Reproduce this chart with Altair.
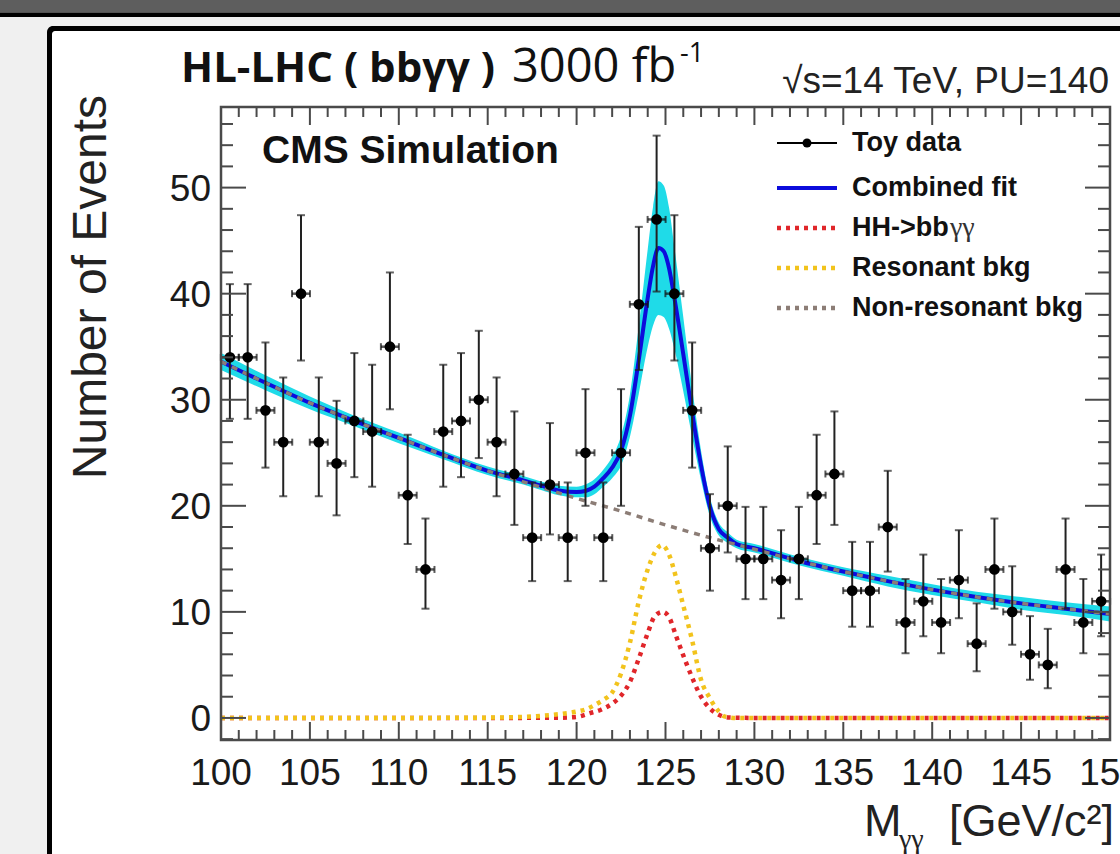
import altair as alt
import pandas as pd

# ---------------- data ----------------
mass = [100.5, 101.5, 102.5, 103.5, 104.5, 105.5, 106.5, 107.5, 108.5, 109.5,
        110.5, 111.5, 112.5, 113.5, 114.5, 115.5, 116.5, 117.5, 118.5, 119.5,
        120.5, 121.5, 122.5, 123.5, 124.5, 125.5, 126.5, 127.5, 128.5, 129.5,
        130.5, 131.5, 132.5, 133.5, 134.5, 135.5, 136.5, 137.5, 138.5, 139.5,
        140.5, 141.5, 142.5, 143.5, 144.5, 145.5, 146.5, 147.5, 148.5, 149.5]
counts = [34, 34, 29, 26, 40, 26, 24, 28, 27, 35,
          21, 14, 27, 28, 30, 26, 23, 17, 22, 17,
          25, 17, 25, 39, 47, 40, 29, 16, 20, 15,
          15, 13, 15, 21, 23, 12, 12, 18, 9, 11,
          9, 13, 7, 14, 10, 6, 5, 14, 9, 11]
err_lo = [5.8, 5.8, 5.4, 5.1, 6.3, 5.1, 4.9, 5.3, 5.2, 5.9,
          4.6, 3.7, 5.2, 5.3, 5.5, 5.1, 4.8, 4.1, 4.7, 4.1,
          5.0, 4.1, 5.0, 6.2, 6.8, 6.3, 5.4, 4.0, 4.4, 3.8,
          3.8, 3.6, 3.8, 4.6, 4.8, 3.4, 3.4, 4.2, 2.9, 3.3,
          2.9, 3.6, 2.6, 3.7, 3.1, 2.4, 2.2, 3.7, 2.9, 3.3]
err_hi = [6.9, 6.9, 6.4, 6.1, 7.4, 6.1, 5.9, 6.4, 6.3, 7.0,
          5.7, 4.8, 6.3, 6.4, 6.5, 6.1, 5.9, 5.2, 5.8, 5.2,
          6.0, 5.2, 6.0, 7.3, 7.9, 7.4, 6.4, 5.1, 5.6, 4.9,
          4.9, 4.7, 4.9, 5.7, 5.9, 4.6, 4.6, 5.3, 4.1, 4.4,
          4.1, 4.7, 3.8, 4.8, 4.3, 3.6, 3.4, 4.8, 4.1, 4.4]

# combined fit with its uncertainty band
fit_x = [100, 102.5, 105, 107.5, 110, 112.5, 115, 117, 118, 119, 120, 120.5, 121, 121.5,
         122, 122.5, 123, 123.5, 124, 124.3, 124.6, 124.9, 125.2, 125.5, 126, 126.5, 127,
         127.5, 128, 128.5, 129, 130, 132.5, 135, 137.5, 140, 142.5, 145, 147.5, 150]
fit_y = [33.6, 31.6, 29.7, 28.0, 26.4, 24.8, 23.3, 22.4, 21.9, 21.45, 21.3, 21.4, 21.8, 22.6,
         23.6, 25.2, 28.5, 33.8, 39.6, 42.6, 44.3, 44.0, 42.4, 39.6, 34.3, 28.8, 23.8,
         19.9, 17.8, 17.0, 16.4, 16.0, 14.8, 13.8, 12.9, 12.1, 11.4, 10.8, 10.3, 9.8]
band_lo = [32.8, 30.9, 29.1, 27.5, 25.9, 24.4, 22.9, 22.0, 21.5, 21.0, 20.8, 20.8, 21.1, 21.8,
           22.6, 23.8, 26.5, 30.6, 35.0, 37.0, 38.0, 37.8, 36.7, 34.8, 30.8, 26.5, 22.4,
           19.0, 17.2, 16.5, 16.0, 15.6, 14.4, 13.4, 12.4, 11.6, 10.9, 10.2, 9.7, 9.1]
band_hi = [34.4, 32.3, 30.3, 28.5, 26.9, 25.2, 23.7, 22.8, 22.3, 21.9, 21.8, 22.0, 22.5, 23.4,
           24.6, 26.6, 30.5, 37.0, 44.2, 48.2, 50.6, 50.2, 48.1, 44.4, 37.8, 31.1, 25.2,
           20.8, 18.4, 17.5, 16.8, 16.4, 15.2, 14.2, 13.4, 12.6, 11.9, 11.4, 10.9, 10.5]

# non-resonant background
nonres_x = [100, 102.5, 105, 107.5, 110, 112.5, 115, 117.5, 120, 122.5, 125, 127.5,
            130, 132.5, 135, 137.5, 140, 142.5, 145, 147.5, 150]
nonres_y = [33.6, 31.6, 29.7, 28.0, 26.4, 24.8, 23.3, 22.0, 20.7, 19.5, 18.2, 17.0,
            15.9, 14.8, 13.8, 12.9, 12.1, 11.4, 10.8, 10.3, 9.8]

# resonant background
res_x = [100, 110, 115, 117, 118, 119, 120, 120.5, 121, 121.5, 122, 122.5, 123, 123.5,
         124, 124.4, 124.8, 125.2, 125.6, 126, 126.5, 127, 127.5, 128, 128.3, 129, 140, 150]
res_y = [0, 0, 0.03, 0.1, 0.2, 0.35, 0.6, 0.8, 1.2, 1.7, 2.4, 4.2, 7.1, 11.0,
         14.0, 15.6, 16.3, 15.4, 13.2, 10.6, 7.3, 3.6, 1.85, 0.6, 0.15, 0, 0, 0]

# HH -> bb gamma gamma signal
hh_x = [100, 115, 119, 120, 120.75, 121.4, 122, 122.5, 123, 123.5, 124, 124.4, 124.85,
        125.2, 125.6, 126, 126.5, 127, 127.5, 128, 128.5, 130, 150]
hh_y = [0, 0, 0.02, 0.1, 0.45, 0.8, 1.35, 2.1, 3.4, 5.6, 8.0, 9.6, 10.0,
        9.5, 7.7, 5.9, 3.8, 2.0, 0.9, 0.3, 0.05, 0, 0]

x_labels = [100, 105, 110, 115, 120, 125, 130, 135, 140, 145, 150]
x_minor = [v for v in range(100, 151) if v % 5 != 0]
y_labels = [0, 10, 20, 30, 40, 50]
y_minor = [v for v in range(-2, 57, 2) if v % 10 != 0]

legend_labels = ["Toy data", "Combined fit", "HH->bb", "Resonant bkg", "Non-resonant bkg"]

# ---------------- styling ----------------
W, H = 889, 633
PADL, PADT = 221, 107
SANS = "Liberation Sans"
BLUE = "#0c0cdc"
CYAN = "#1fdbe8"
RED = "#e0262a"
GOLD = "#f2c31c"
GRAY = "#8c7d76"
FRAME = "#4a4a4a"
INK = "#1a1a1a"

xs = alt.Scale(domain=[100, 150], nice=False, zero=False)
ys = alt.Scale(domain=[-2.08, 57.6], nice=False, zero=False)
one = pd.DataFrame({"k": [0]})


def deco_rect(x, x2, y, y2, color, **kw):
    return alt.Chart(one).mark_rect(color=color, **kw).encode(
        x=alt.value(x), x2=alt.value(x2), y=alt.value(y), y2=alt.value(y2))


def label(text, x, y, size, weight="normal", font=SANS, align="left", angle=0, color=INK):
    kw = dict(text=text, font=font, fontSize=size, fontWeight=weight, align=align,
              baseline="alphabetic", color=color)
    if angle:
        kw["angle"] = angle
    return alt.Chart(one).mark_text(**kw).encode(x=alt.value(x), y=alt.value(y))


layers = []
# slide background pieces
layers.append(deco_rect(-PADL, W + 20, -PADT, -PADT + 12.5, "#5e5e5e"))
layers.append(deco_rect(-PADL, W + 20, -PADT + 12.5, -PADT + 17, "#000000"))
layers.append(deco_rect(47 - PADL, W + 40, 26 - PADT, H + 200, "#000000", cornerRadius=6))
layers.append(deco_rect(52 - PADL, W + 40, 31 - PADT, H + 200, "#ffffff", cornerRadius=3))

# curves
fit_df = pd.DataFrame({"x": fit_x, "y": fit_y, "lo": band_lo, "hi": band_hi})
layers.append(alt.Chart(fit_df).mark_area(color=CYAN, opacity=1, interpolate="monotone").encode(
    x=alt.X("x:Q", scale=xs, axis=None), y=alt.Y("lo:Q", scale=ys, axis=None), y2="hi:Q"))
layers.append(alt.Chart(fit_df).mark_line(color=BLUE, strokeWidth=4, interpolate="monotone").encode(
    x=alt.X("x:Q", scale=xs, axis=None), y=alt.Y("y:Q", scale=ys, axis=None)))

nonres_df = pd.DataFrame({"x": nonres_x, "y": nonres_y})
layers.append(alt.Chart(nonres_df).mark_line(color=GRAY, strokeWidth=3.5, strokeDash=[6, 6],
                                             interpolate="monotone").encode(
    x=alt.X("x:Q", scale=xs, axis=None), y=alt.Y("y:Q", scale=ys, axis=None)))

# zero line
layers.append(alt.Chart(one).mark_rule(color="#222222", strokeWidth=1.5).encode(
    x=alt.value(0), x2=alt.value(W), y=alt.Y("datum.k:Q", scale=ys, axis=None)))

hh_df = pd.DataFrame({"x": hh_x, "y": hh_y})
layers.append(alt.Chart(hh_df).mark_line(color=RED, strokeWidth=4.5, strokeDash=[4, 5],
                                         interpolate="monotone").encode(
    x=alt.X("x:Q", scale=xs, axis=None), y=alt.Y("y:Q", scale=ys, axis=None)))
res_df = pd.DataFrame({"x": res_x, "y": res_y})
layers.append(alt.Chart(res_df).mark_line(color=GOLD, strokeWidth=4.5, strokeDash=[4, 5],
                                          interpolate="monotone").encode(
    x=alt.X("x:Q", scale=xs, axis=None), y=alt.Y("y:Q", scale=ys, axis=None)))

# toy data with error bars
pts = pd.DataFrame({"m": mass, "n": counts, "elo": err_lo, "ehi": err_hi})
pbase = alt.Chart(pts).transform_calculate(lo="datum.n - datum.elo", hi="datum.n + datum.ehi")
layers.append(pbase.mark_rule(color="#222222", strokeWidth=2).encode(
    x=alt.X("m:Q", scale=xs, axis=None), y=alt.Y("lo:Q", scale=ys, axis=None), y2="hi:Q"))
for fld in ["lo", "hi"]:
    layers.append(pbase.mark_tick(color="#222222", orient="horizontal", size=8, thickness=2).encode(
        x=alt.X("m:Q", scale=xs, axis=None), y=alt.Y(f"{fld}:Q", scale=ys, axis=None)))
layers.append(pbase.mark_tick(color="#111111", orient="horizontal", size=18, thickness=2.5).encode(
    x=alt.X("m:Q", scale=xs, axis=None), y=alt.Y("n:Q", scale=ys, axis=None)))
for off in [-9, 9]:
    layers.append(pbase.mark_tick(color="#111111", orient="vertical", size=7, thickness=2,
                                  xOffset=off).encode(
        x=alt.X("m:Q", scale=xs, axis=None), y=alt.Y("n:Q", scale=ys, axis=None)))
layers.append(pbase.mark_circle(color="#000000", size=115, opacity=1).encode(
    x=alt.X("m:Q", scale=xs, axis=None), y=alt.Y("n:Q", scale=ys, axis=None)))

# frame ticks (ROOT style, inside the frame, all four sides)
xmaj = pd.DataFrame({"t": x_labels})
xmin = pd.DataFrame({"t": x_minor})
ymaj = pd.DataFrame({"t": y_labels})
ymin = pd.DataFrame({"t": y_minor})
for df, ln in [(xmaj, 18), (xmin, 10)]:
    layers.append(alt.Chart(df).mark_rule(color=FRAME, strokeWidth=2).encode(
        x=alt.X("t:Q", scale=xs, axis=None), y=alt.value(0), y2=alt.value(ln)))
    layers.append(alt.Chart(df).mark_rule(color=FRAME, strokeWidth=2).encode(
        x=alt.X("t:Q", scale=xs, axis=None), y=alt.value(H), y2=alt.value(H - ln)))
for df, ln in [(ymaj, 25), (ymin, 12)]:
    layers.append(alt.Chart(df).mark_rule(color=FRAME, strokeWidth=2).encode(
        y=alt.Y("t:Q", scale=ys, axis=None), x=alt.value(0), x2=alt.value(ln)))
    layers.append(alt.Chart(df).mark_rule(color=FRAME, strokeWidth=2).encode(
        y=alt.Y("t:Q", scale=ys, axis=None), x=alt.value(W), x2=alt.value(W - ln)))
layers.append(alt.Chart(one).mark_rect(fill=None, fillOpacity=0, stroke=FRAME, strokeWidth=2.5).encode(
    x=alt.value(0), x2=alt.value(W), y=alt.value(0), y2=alt.value(H)))

# tick labels, placed through the scales
layers.append(alt.Chart(xmaj).mark_text(font=SANS, fontSize=37, align="center", baseline="alphabetic",
                                        color=INK).encode(
    x=alt.X("t:Q", scale=xs, axis=None), y=alt.value(H + 45), text="t:Q"))
layers.append(alt.Chart(ymaj).mark_text(font=SANS, fontSize=37, align="right", baseline="alphabetic",
                                        color=INK, dy=13).encode(
    y=alt.Y("t:Q", scale=ys, axis=None), x=alt.value(-10), text="t:Q"))

# texts
layers.append(label("HL-LHC ( bbγγ )", 181 - PADL, 82 - PADT, 42, "bold", font="Open Sans", color="#111111"))
layers.append(label("3000 fb", 512 - PADL, 82 - PADT, 47, font="Open Sans", color="#111111"))
layers.append(label("-1", 680 - PADL, 62 - PADT, 27, font="Open Sans", color="#111111"))
layers.append(label("√s=14 TeV, PU=140", 1109 - PADL, 93 - PADT, 37, align="right", color="#222222"))
layers.append(label("CMS Simulation", 262 - PADL, 163 - PADT, 39, "bold", color="#111111"))
layers.append(label("Number of Events", 106 - PADL, 95 - PADT, 48, angle=270, align="right",
                    color="#222222"))
layers.append(label("M", 864 - PADL, 836 - PADT, 45, color="#222222"))
layers.append(label("γγ", 899 - PADL, 848 - PADT, 28, font="Liberation Serif", color="#222222"))
layers.append(label("[GeV/c²]", 1114 - PADL, 836 - PADT, 45, align="right", color="#222222"))

# legend
leg_rows = [36, 81, 121, 161, 201]
leg_x0, leg_x1, leg_tx = 777 - PADL, 837 - PADL, 852 - PADL
sym_styles = [
    dict(color="#000000", strokeWidth=2),
    dict(color=BLUE, strokeWidth=4),
    dict(color=RED, strokeWidth=4.5, strokeDash=[4, 5]),
    dict(color=GOLD, strokeWidth=4.5, strokeDash=[4, 5]),
    dict(color=GRAY, strokeWidth=4.5, strokeDash=[4, 5]),
]
for i, (txt, st) in enumerate(zip(legend_labels, sym_styles)):
    yy = leg_rows[i]
    layers.append(alt.Chart(one).mark_rule(**st).encode(
        x=alt.value(leg_x0), x2=alt.value(leg_x1), y=alt.value(yy)))
    layers.append(alt.Chart(one).mark_text(text=txt, font=SANS, fontSize=27, fontWeight="bold",
                                           align="left", baseline="middle", color="#111111").encode(
        x=alt.value(leg_tx), y=alt.value(yy)))
layers.append(alt.Chart(one).mark_circle(color="#000000", size=80, opacity=1).encode(
    x=alt.value((leg_x0 + leg_x1) / 2), y=alt.value(leg_rows[0])))
layers.append(alt.Chart(one).mark_text(text="γγ", font="Liberation Serif", fontSize=28,
                                       align="left", baseline="middle", color="#333333").encode(
    x=alt.value(leg_tx + 98), y=alt.value(leg_rows[2])))

chart = alt.layer(*layers).properties(
    width=W, height=H,
    autosize=alt.AutoSizeParams(type="none"),
    padding={"left": PADL, "top": PADT, "right": 10, "bottom": 114},
    background="#f0f0f0",
).configure_view(stroke=None)

chart.save("out.html", embed_options={"renderer": "svg", "actions": False})
